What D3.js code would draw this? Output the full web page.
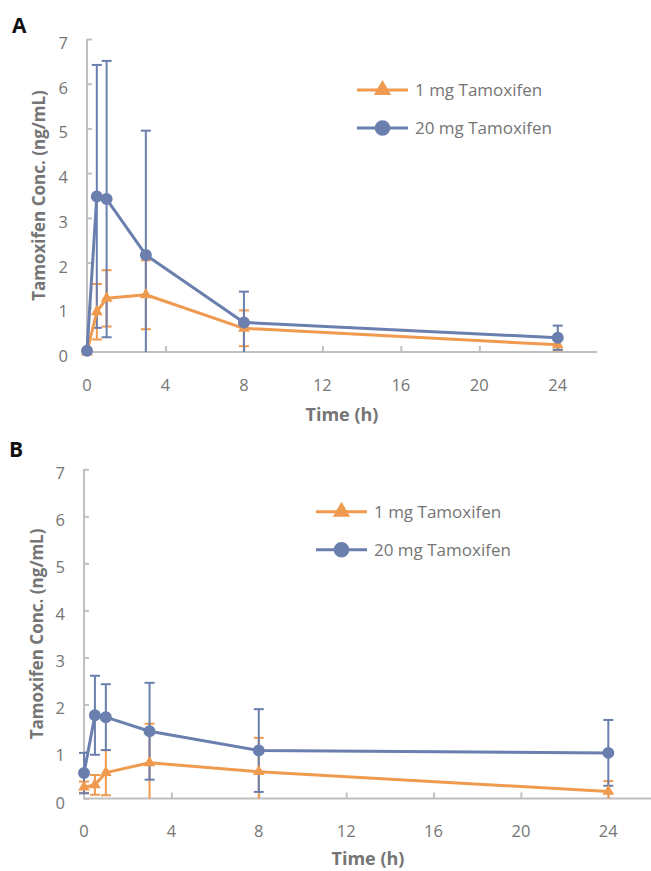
<!DOCTYPE html>
<html>
<head>
<meta charset="utf-8">
<script src="https://cdn.jsdelivr.net/npm/d3@7"></script>
<style>
  body { margin: 0; background: #fff; }
  svg { display: block; }
  text { font-family: "Open Sans", sans-serif; }
</style>
</head>
<body>
<svg id="chart" width="651" height="871"></svg>
<script>
// sampling times (h) and axis ticks
const timesH = [0, 0.5, 1, 3, 8, 24];
const xTicks = [0, 4, 8, 12, 16, 20, 24];
const yTicks = [0, 1, 2, 3, 4, 5, 6, 7];
const seriesNames = ['1 mg Tamoxifen', '20 mg Tamoxifen'];

// panel A: mean and SD (ng/mL)
const meanA1mg = [0, 0.90, 1.20, 1.28, 0.53, 0.16];
const sdA1mg = [0, 0.62, 0.63, 0.77, 0.40, 0.12];
const meanA20mg = [0.03, 3.48, 3.42, 2.17, 0.66, 0.32];
const sdA20mg = [0, 2.94, 3.09, 2.78, 0.69, 0.27];

// panel B: mean and SD (ng/mL)
const meanB1mg = [0.24, 0.29, 0.55, 0.76, 0.57, 0.15];
const sdB1mg = [0.12, 0.21, 0.48, 0.83, 0.72, 0.22];
const meanB20mg = [0.54, 1.77, 1.73, 1.43, 1.02, 0.97];
const sdB20mg = [0.43, 0.84, 0.70, 1.03, 0.88, 0.70];

const colors = ['#ef9a4f', '#6a7fae'];
const axisColor = '#c0c0c0';
const textColor = '#757575';

const svg = d3.select('#chart');

const panels = [
    { label: 'A', labelX: 12, labelY: 33, x0: 87, x1: 597, y0: 352, y1: 39,
      means: [meanA1mg, meanA20mg], sds: [sdA1mg, sdA20mg],
      legendX: 357, legendY: 90, yTitleX: 45, xTitleY: 421, tickY: 391 },
    { label: 'B', labelX: 9, labelY: 457, x0: 84, x1: 652, y0: 798.5, y1: 469.3,
      means: [meanB1mg, meanB20mg], sds: [sdB1mg, sdB20mg],
      legendX: 316, legendY: 511.7, yTitleX: 43, xTitleY: 865, tickY: 837 }
];

panels.forEach(drawPanel);

function drawPanel(p) {
    const g = svg.append('g');
    const x = d3.scaleLinear().domain([0, 26]).range([p.x0, p.x1]);
    const y = d3.scaleLinear().domain([0, 7]).range([p.y0, p.y1]);

    // panel letter
    g.append('text')
        .attr('x', p.labelX).attr('y', p.labelY)
        .attr('font-size', 21).attr('font-weight', 'bold')
        .attr('fill', '#111')
        .text(p.label);

    // y axis (ticks pointing inward)
    const yAxis = g.append('g')
        .attr('transform', `translate(${p.x0},0)`)
        .call(d3.axisRight(y).tickValues(yTicks).tickSize(5).tickFormat(''));
    yAxis.select('.domain').attr('stroke', axisColor).attr('stroke-width', 2).attr('d', `M0,${p.y1}V${p.y0}`);
    yAxis.selectAll('.tick line').attr('stroke', axisColor).attr('stroke-width', 2);

    g.selectAll('.ylab')
        .data(yTicks)
        .enter()
        .append('text')
        .attr('x', p.x0 - 19)
        .attr('y', d => y(d) + 10)
        .attr('text-anchor', 'end')
        .attr('font-size', 16.5)
        .attr('fill', textColor)
        .text(d => d);

    // x axis (ticks pointing up)
    const xAxis = g.append('g')
        .attr('transform', `translate(0,${p.y0})`)
        .call(d3.axisTop(x).tickValues(xTicks.slice(1)).tickSize(6).tickFormat(''));
    xAxis.select('.domain').attr('stroke', axisColor).attr('stroke-width', 2).attr('d', `M${p.x0 - 1},0H${p.x1}`);
    xAxis.selectAll('.tick line').attr('stroke', axisColor).attr('stroke-width', 2);

    g.selectAll('.xlab')
        .data(xTicks)
        .enter()
        .append('text')
        .attr('x', d => x(d))
        .attr('y', p.tickY)
        .attr('text-anchor', 'middle')
        .attr('font-size', 16.5)
        .attr('fill', textColor)
        .text(d => d);

    // axis titles
    g.append('text')
        .attr('x', (p.x0 + p.x1) / 2)
        .attr('y', p.xTitleY)
        .attr('text-anchor', 'middle')
        .attr('font-size', 18).attr('font-weight', 'bold')
        .attr('fill', textColor)
        .text('Time (h)');

    g.append('text')
        .attr('transform', `translate(${p.yTitleX},${(p.y0 + p.y1) / 2}) rotate(-90)`)
        .attr('text-anchor', 'middle')
        .attr('font-size', 17).attr('font-weight', 'bold')
        .attr('fill', textColor)
        .text('Tamoxifen Conc. (ng/mL)');

    // error bars, clipped at zero like the plot area
    p.means.forEach((m, s) => {
        const rows = timesH.map((t, i) => ({ t: t, m: m[i], sd: p.sds[s][i] })).filter(d => d.sd > 0);
        const eb = g.append('g').attr('stroke', colors[s]).attr('stroke-width', 2);
        rows.forEach(d => {
            const lo = Math.max(0, d.m - d.sd);
            const hi = d.m + d.sd;
            eb.append('line')
                .attr('x1', x(d.t)).attr('x2', x(d.t))
                .attr('y1', y(lo)).attr('y2', y(hi));
            eb.append('line')
                .attr('x1', x(d.t) - 5).attr('x2', x(d.t) + 5)
                .attr('y1', y(hi)).attr('y2', y(hi));
            if (d.m - d.sd >= 0) {
                eb.append('line')
                    .attr('x1', x(d.t) - 5).attr('x2', x(d.t) + 5)
                    .attr('y1', y(lo)).attr('y2', y(lo));
            }
        });
    });

    // lines and markers
    const line = d3.line().x((d, i) => x(timesH[i])).y(d => y(d));
    p.means.forEach((m, s) => {
        g.append('path')
            .datum(m)
            .attr('d', line)
            .attr('fill', 'none')
            .attr('stroke', colors[s])
            .attr('stroke-width', 3)
            .attr('stroke-linejoin', 'round');

        const sym = d3.symbol().type(s === 0 ? d3.symbolTriangle : d3.symbolCircle).size(s === 0 ? 60 : 113);
        g.selectAll(null)
            .data(m)
            .enter()
            .append('path')
            .attr('transform', (d, i) => `translate(${x(timesH[i])},${y(d)})`)
            .attr('d', sym)
            .attr('fill', colors[s]);
    });

    // legend
    seriesNames.forEach((name, s) => {
        const ly = p.legendY + s * 38;
        const lg = g.append('g');
        lg.append('line')
            .attr('x1', p.legendX).attr('x2', p.legendX + 51)
            .attr('y1', ly).attr('y2', ly)
            .attr('stroke', colors[s]).attr('stroke-width', 3);
        lg.append('path')
            .attr('transform', `translate(${p.legendX + 25.5},${ly})`)
            .attr('d', d3.symbol().type(s === 0 ? d3.symbolTriangle : d3.symbolCircle).size(s === 0 ? 130 : 190))
            .attr('fill', colors[s]);
        lg.append('text')
            .attr('x', p.legendX + 58)
            .attr('y', ly + 6)
            .attr('font-size', 17)
            .attr('fill', textColor)
            .text(name);
    });
}
</script>
</body>
</html>
